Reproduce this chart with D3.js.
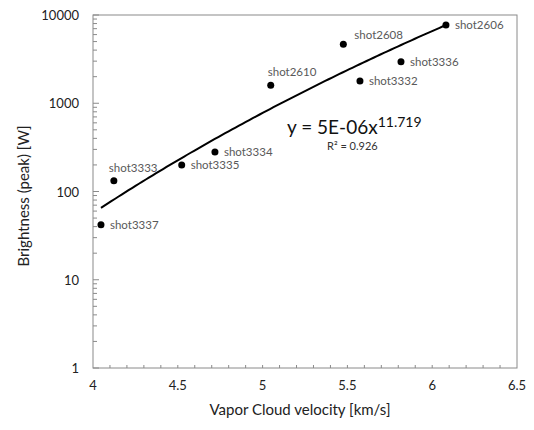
<!DOCTYPE html>
<html lang="en"><head>
<meta charset="utf-8">
<title>brightness vs velocity</title>
<script src="https://cdn.jsdelivr.net/npm/d3@7"></script>
<style>
  body { margin: 0; background: #fff; }
  text { font-family: Lato, "Open Sans", sans-serif; }
</style>
</head>
<body>
<svg width="534" height="430"></svg>
<script>
// data
var shots = ["shot3337", "shot3333", "shot3335", "shot3334", "shot2610", "shot2608", "shot3332", "shot3336", "shot2606"];
var velocity = [4.047, 4.123, 4.523, 4.719, 5.048, 5.476, 5.574, 5.816, 6.081];
var brightness = [42, 132, 200, 280, 1600, 4650, 1790, 2960, 7700];
// label offsets from the dot (px)
var labelDx = [9, -5, 9, 9, -3, 11, 9, 9, 9];
var labelDy = [4, -9, 4, 4, -9, -5, 4, 4, 4];
var xTicks = [4, 4.5, 5, 5.5, 6, 6.5];
var yTicks = [1, 10, 100, 1000, 10000];
var fitA = 5e-6, fitB = 11.719;

var svg = d3.select("svg");
var margin = {left: 93, right: 17, top: 15, bottom: 62};
var width = 534 - margin.left - margin.right,
    height = 430 - margin.top - margin.bottom;

var x = d3.scaleLinear().domain([4, 6.5]).range([0, width]);
var y = d3.scaleLog().domain([1, 10000]).range([height, 0]);

var g = svg.append("g").attr("transform", "translate(" + margin.left + "," + margin.top + ")");

// frame
g.append("rect").attr("x", 0).attr("y", 0).attr("width", width).attr("height", height)
  .attr("fill", "none").attr("stroke", "#8a8a8a").attr("stroke-width", 1);

// x minor ticks (every 0.1), pointing inward
var xMinor = d3.range(41, 65).map(function(d){ return d / 10; });
g.selectAll(".xminor").data(xMinor).enter().append("line")
  .attr("x1", function(d){ return x(d); }).attr("x2", function(d){ return x(d); })
  .attr("y1", height).attr("y2", height - 3)
  .attr("stroke", "#8a8a8a");

// y minor ticks 2..9 in each decade
var yMinor = [];
[1, 10, 100, 1000].forEach(function(dec){
  for (var k = 2; k <= 9; k++) yMinor.push(dec * k);
});
g.selectAll(".yminor").data(yMinor).enter().append("line")
  .attr("x1", 0).attr("x2", 4)
  .attr("y1", function(d){ return y(d); }).attr("y2", function(d){ return y(d); })
  .attr("stroke", "#8a8a8a");
g.selectAll(".ymajor").data(yTicks).enter().append("line")
  .attr("x1", 0).attr("x2", 6)
  .attr("y1", function(d){ return y(d); }).attr("y2", function(d){ return y(d); })
  .attr("stroke", "#8a8a8a");

// tick labels
g.selectAll(".xlab").data(xTicks).enter().append("text")
  .attr("x", function(d){ return x(d); }).attr("y", height + 22)
  .attr("text-anchor", "middle").attr("font-size", 13).attr("fill", "#222")
  .text(function(d){ return d; });
g.selectAll(".ylab").data(yTicks).enter().append("text")
  .attr("x", -14).attr("y", function(d){ return y(d) + 5; })
  .attr("text-anchor", "end").attr("font-size", 13).attr("fill", "#222")
  .text(function(d){ return d; });

// axis titles
svg.append("text").attr("x", margin.left + width / 2 - 5).attr("y", 415)
  .attr("text-anchor", "middle").attr("font-size", 15).attr("fill", "#222")
  .text("Vapor Cloud velocity [km/s]");
svg.append("text").attr("transform", "translate(29,196) rotate(-90)")
  .attr("text-anchor", "middle").attr("font-size", 15).attr("fill", "#222")
  .text("Brightness (peak) [W]");

// power trendline
var xs = d3.range(0, 101).map(function(i){
  return d3.min(velocity) + (d3.max(velocity) - d3.min(velocity)) * i / 100;
});
var line = d3.line()
  .x(function(d){ return x(d); })
  .y(function(d){ return y(fitA * Math.pow(d, fitB)); });
g.append("path").datum(xs).attr("d", line)
  .attr("fill", "none").attr("stroke", "#000").attr("stroke-width", 2);

// points
var pts = shots.map(function(s, i){ return {name: s, v: velocity[i], b: brightness[i], dx: labelDx[i], dy: labelDy[i]}; });
g.selectAll(".dot").data(pts).enter().append("circle")
  .attr("cx", function(d){ return x(d.v); }).attr("cy", function(d){ return y(d.b); })
  .attr("r", 3.5).attr("fill", "#000");

g.selectAll(".dlab").data(pts).enter().append("text")
  .attr("x", function(d){ return x(d.v) + d.dx; })
  .attr("y", function(d){ return y(d.b) + d.dy; })
  .attr("font-size", 11.5).attr("fill", "#595959")
  .text(function(d){ return d.name; });

// equation
var eq = g.append("text").attr("x", 194).attr("y", 119).attr("font-size", 19).attr("fill", "#111");
eq.append("tspan").text("y = 5E-06x");
eq.append("tspan").attr("dy", -7).attr("font-size", 14).text("11.719");
g.append("text").attr("x", 234).attr("y", 135).attr("font-size", 11).attr("fill", "#333")
  .text("R² = 0.926");
</script>
</body>
</html>
